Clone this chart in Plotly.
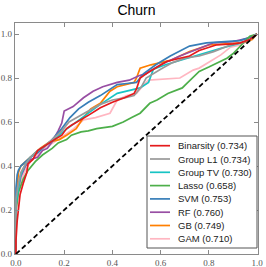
import plotly.graph_objects as go

title = "Churn"
models = ["Binarsity", "Group L1", "Group TV", "Lasso", "SVM", "RF", "GB", "GAM"]
aucs = ["0.734", "0.734", "0.730", "0.658", "0.753", "0.760", "0.749", "0.710"]
colors = ["#e41a1c", "#999999", "#17c4c4", "#4daf4a", "#377eb8", "#984ea3", "#ff7f00", "#ffb6c1"]

binarsity_fpr = [0, 0, 0.005, 0.01, 0.017, 0.03, 0.045, 0.05, 0.07, 0.09, 0.13, 0.16, 0.19, 0.21, 0.23, 0.27, 0.30, 0.35, 0.40, 0.45, 0.49, 0.50, 0.515, 0.555, 0.60, 0.625, 0.68, 0.72, 0.76, 0.83, 0.90, 0.93, 0.97, 1.0]
binarsity_tpr = [0, 0.06, 0.15, 0.21, 0.27, 0.32, 0.37, 0.41, 0.43, 0.47, 0.50, 0.52, 0.54, 0.57, 0.585, 0.61, 0.63, 0.665, 0.69, 0.71, 0.73, 0.75, 0.80, 0.83, 0.86, 0.875, 0.89, 0.90, 0.925, 0.95, 0.955, 0.96, 0.975, 1.0]

groupl1_fpr = [0, 0, 0.01, 0.02, 0.04, 0.06, 0.09, 0.12, 0.15, 0.19, 0.22, 0.25, 0.30, 0.35, 0.40, 0.45, 0.49, 0.52, 0.54, 0.60, 0.65, 0.70, 0.76, 0.82, 0.89, 0.94, 0.98, 1.0]
groupl1_tpr = [0, 0.25, 0.32, 0.37, 0.41, 0.44, 0.47, 0.49, 0.52, 0.56, 0.60, 0.62, 0.65, 0.68, 0.70, 0.71, 0.72, 0.76, 0.80, 0.84, 0.87, 0.89, 0.90, 0.92, 0.95, 0.96, 0.98, 1.0]

grouptv_fpr = [0, 0, 0.01, 0.02, 0.04, 0.06, 0.09, 0.12, 0.16, 0.20, 0.25, 0.30, 0.35, 0.42, 0.48, 0.515, 0.55, 0.57, 0.62, 0.68, 0.74, 0.80, 0.85, 0.92, 0.97, 1.0]
grouptv_tpr = [0, 0.22, 0.30, 0.36, 0.41, 0.44, 0.47, 0.49, 0.52, 0.56, 0.60, 0.64, 0.68, 0.73, 0.745, 0.755, 0.78, 0.84, 0.86, 0.88, 0.90, 0.92, 0.935, 0.955, 0.975, 1.0]

lasso_fpr = [0, 0, 0.01, 0.03, 0.05, 0.08, 0.11, 0.15, 0.175, 0.21, 0.23, 0.27, 0.30, 0.335, 0.40, 0.445, 0.48, 0.515, 0.555, 0.585, 0.63, 0.69, 0.71, 0.76, 0.80, 0.83, 0.875, 0.90, 0.93, 0.97, 1.0]
lasso_tpr = [0, 0.20, 0.28, 0.34, 0.38, 0.42, 0.45, 0.48, 0.505, 0.52, 0.54, 0.555, 0.56, 0.57, 0.58, 0.60, 0.62, 0.64, 0.685, 0.70, 0.73, 0.755, 0.777, 0.83, 0.85, 0.867, 0.89, 0.91, 0.945, 0.99, 1.0]

svm_fpr = [0, 0, 0.005, 0.01, 0.02, 0.04, 0.06, 0.09, 0.12, 0.15, 0.19, 0.224, 0.26, 0.30, 0.35, 0.39, 0.42, 0.46, 0.50, 0.53, 0.58, 0.64, 0.72, 0.79, 0.86, 0.93, 0.97, 1.0]
svm_tpr = [0, 0.30, 0.36, 0.38, 0.40, 0.42, 0.44, 0.46, 0.49, 0.52, 0.57, 0.62, 0.66, 0.69, 0.72, 0.75, 0.77, 0.775, 0.78, 0.82, 0.86, 0.90, 0.945, 0.96, 0.965, 0.97, 0.985, 1.0]

rf_fpr = [0, 0, 0.01, 0.02, 0.04, 0.06, 0.09, 0.11, 0.13, 0.15, 0.175, 0.19, 0.20, 0.237, 0.28, 0.32, 0.36, 0.42, 0.47, 0.51, 0.54, 0.60, 0.68, 0.75, 0.82, 0.90, 0.96, 1.0]
rf_tpr = [0, 0.22, 0.30, 0.35, 0.40, 0.43, 0.44, 0.47, 0.48, 0.51, 0.56, 0.595, 0.65, 0.67, 0.71, 0.74, 0.76, 0.78, 0.79, 0.81, 0.82, 0.86, 0.90, 0.93, 0.96, 0.965, 0.98, 1.0]

gb_fpr = [0, 0, 0.005, 0.01, 0.02, 0.04, 0.07, 0.10, 0.14, 0.18, 0.21, 0.25, 0.28, 0.31, 0.35, 0.39, 0.42, 0.46, 0.49, 0.50, 0.515, 0.56, 0.64, 0.72, 0.80, 0.87, 0.94, 0.98, 1.0]
gb_tpr = [0, 0.20, 0.30, 0.37, 0.40, 0.42, 0.45, 0.48, 0.51, 0.52, 0.54, 0.57, 0.62, 0.66, 0.685, 0.74, 0.76, 0.77, 0.78, 0.80, 0.845, 0.86, 0.88, 0.92, 0.95, 0.955, 0.96, 0.975, 1.0]

gam_fpr = [0, 0, 0.01, 0.02, 0.04, 0.06, 0.09, 0.12, 0.16, 0.20, 0.24, 0.28, 0.33, 0.39, 0.42, 0.46, 0.50, 0.53, 0.55, 0.68, 0.735, 0.76, 0.79, 0.85, 0.89, 0.93, 0.97, 1.0]
gam_tpr = [0, 0.18, 0.27, 0.33, 0.38, 0.42, 0.45, 0.48, 0.51, 0.54, 0.57, 0.61, 0.62, 0.64, 0.70, 0.72, 0.73, 0.77, 0.79, 0.80, 0.836, 0.845, 0.866, 0.905, 0.94, 0.95, 0.975, 1.0]

chance = [0, 1]
tick_vals = [0.0, 0.2, 0.4, 0.6, 0.8, 1.0]
tick_text = ["0.0", "0.2", "0.4", "0.6", "0.8", "1.0"]

curves = [
    (binarsity_fpr, binarsity_tpr),
    (groupl1_fpr, groupl1_tpr),
    (grouptv_fpr, grouptv_tpr),
    (lasso_fpr, lasso_tpr),
    (svm_fpr, svm_tpr),
    (rf_fpr, rf_tpr),
    (gb_fpr, gb_tpr),
    (gam_fpr, gam_tpr),
]

W, H = 266, 267
ML, MR, MT, MB = 15, 8, 23, 13
PW, PH = W - ML - MR, H - MT - MB


def px_to_paper(px, py):
    return (px - ML) / PW, (H - MB - py) / PH


fig = go.Figure()
for i in reversed(range(len(models))):
    fx, ty = curves[i]
    fig.add_trace(go.Scatter(
        x=fx, y=ty, mode="lines",
        name=f"{models[i]} ({aucs[i]})",
        line=dict(color=colors[i], width=1.7),
        showlegend=False,
    ))

fig.add_trace(go.Scatter(
    x=chance, y=chance, mode="lines", showlegend=False,
    line=dict(color="black", width=1.8, dash="5px,3px"),
))

# Legend (drawn as box + line samples + text)
shapes = []
annotations = []
bx0, by0 = px_to_paper(147, 248)
bx1, by1 = px_to_paper(257, 136)
shapes.append(dict(type="rect", xref="paper", yref="paper", x0=bx0, y0=by0, x1=bx1, y1=by1,
                   fillcolor="white", line=dict(color="#555555", width=1), layer="above"))
row0, row_step = 145.7, 13.3
for i in range(len(models)):
    cy = row0 + i * row_step
    lx0, ly = px_to_paper(150, cy)
    lx1, _ = px_to_paper(170, cy)
    tx, _ = px_to_paper(176, cy)
    shapes.append(dict(type="line", xref="paper", yref="paper", x0=lx0, y0=ly, x1=lx1, y1=ly,
                       line=dict(color=colors[i], width=1.7), layer="above"))
    annotations.append(dict(xref="paper", yref="paper", x=tx, y=ly, xanchor="left", yanchor="middle",
                            text=f"{models[i]} ({aucs[i]})", showarrow=False,
                            font=dict(family="Liberation Sans, Arial, sans-serif", size=9.5, color="#222222")))

axis_common = dict(
    showgrid=False, zeroline=False, automargin=False,
    showline=True, linecolor="#8a8a8a", linewidth=1.2, mirror="ticks",
    ticks="inside", ticklen=4, tickcolor="#8a8a8a", tickwidth=1,
    tickvals=tick_vals, ticktext=tick_text,
    tickfont=dict(family="Liberation Serif, serif", size=9, color="#555555"),
)

fig.update_layout(
    width=W, height=H,
    margin=dict(l=ML, r=MR, t=MT, b=MB, autoexpand=False),
    paper_bgcolor="white", plot_bgcolor="white",
    title=dict(text=title, x=0.5, xanchor="center", xref="paper", yref="container",
               y=1 - 10.5 / H, yanchor="middle",
               font=dict(family="Liberation Sans, Arial, sans-serif", size=14, color="black")),
    xaxis=dict(range=[-0.004, 1.004], **axis_common),
    yaxis=dict(range=[0, 1.05], **axis_common),
    shapes=shapes,
    annotations=annotations,
    showlegend=False,
)

fig.write_html("out.html",
               config={"displayModeBar": False},
               post_script="document.body.style.margin='0px';document.body.style.overflow='hidden';")
